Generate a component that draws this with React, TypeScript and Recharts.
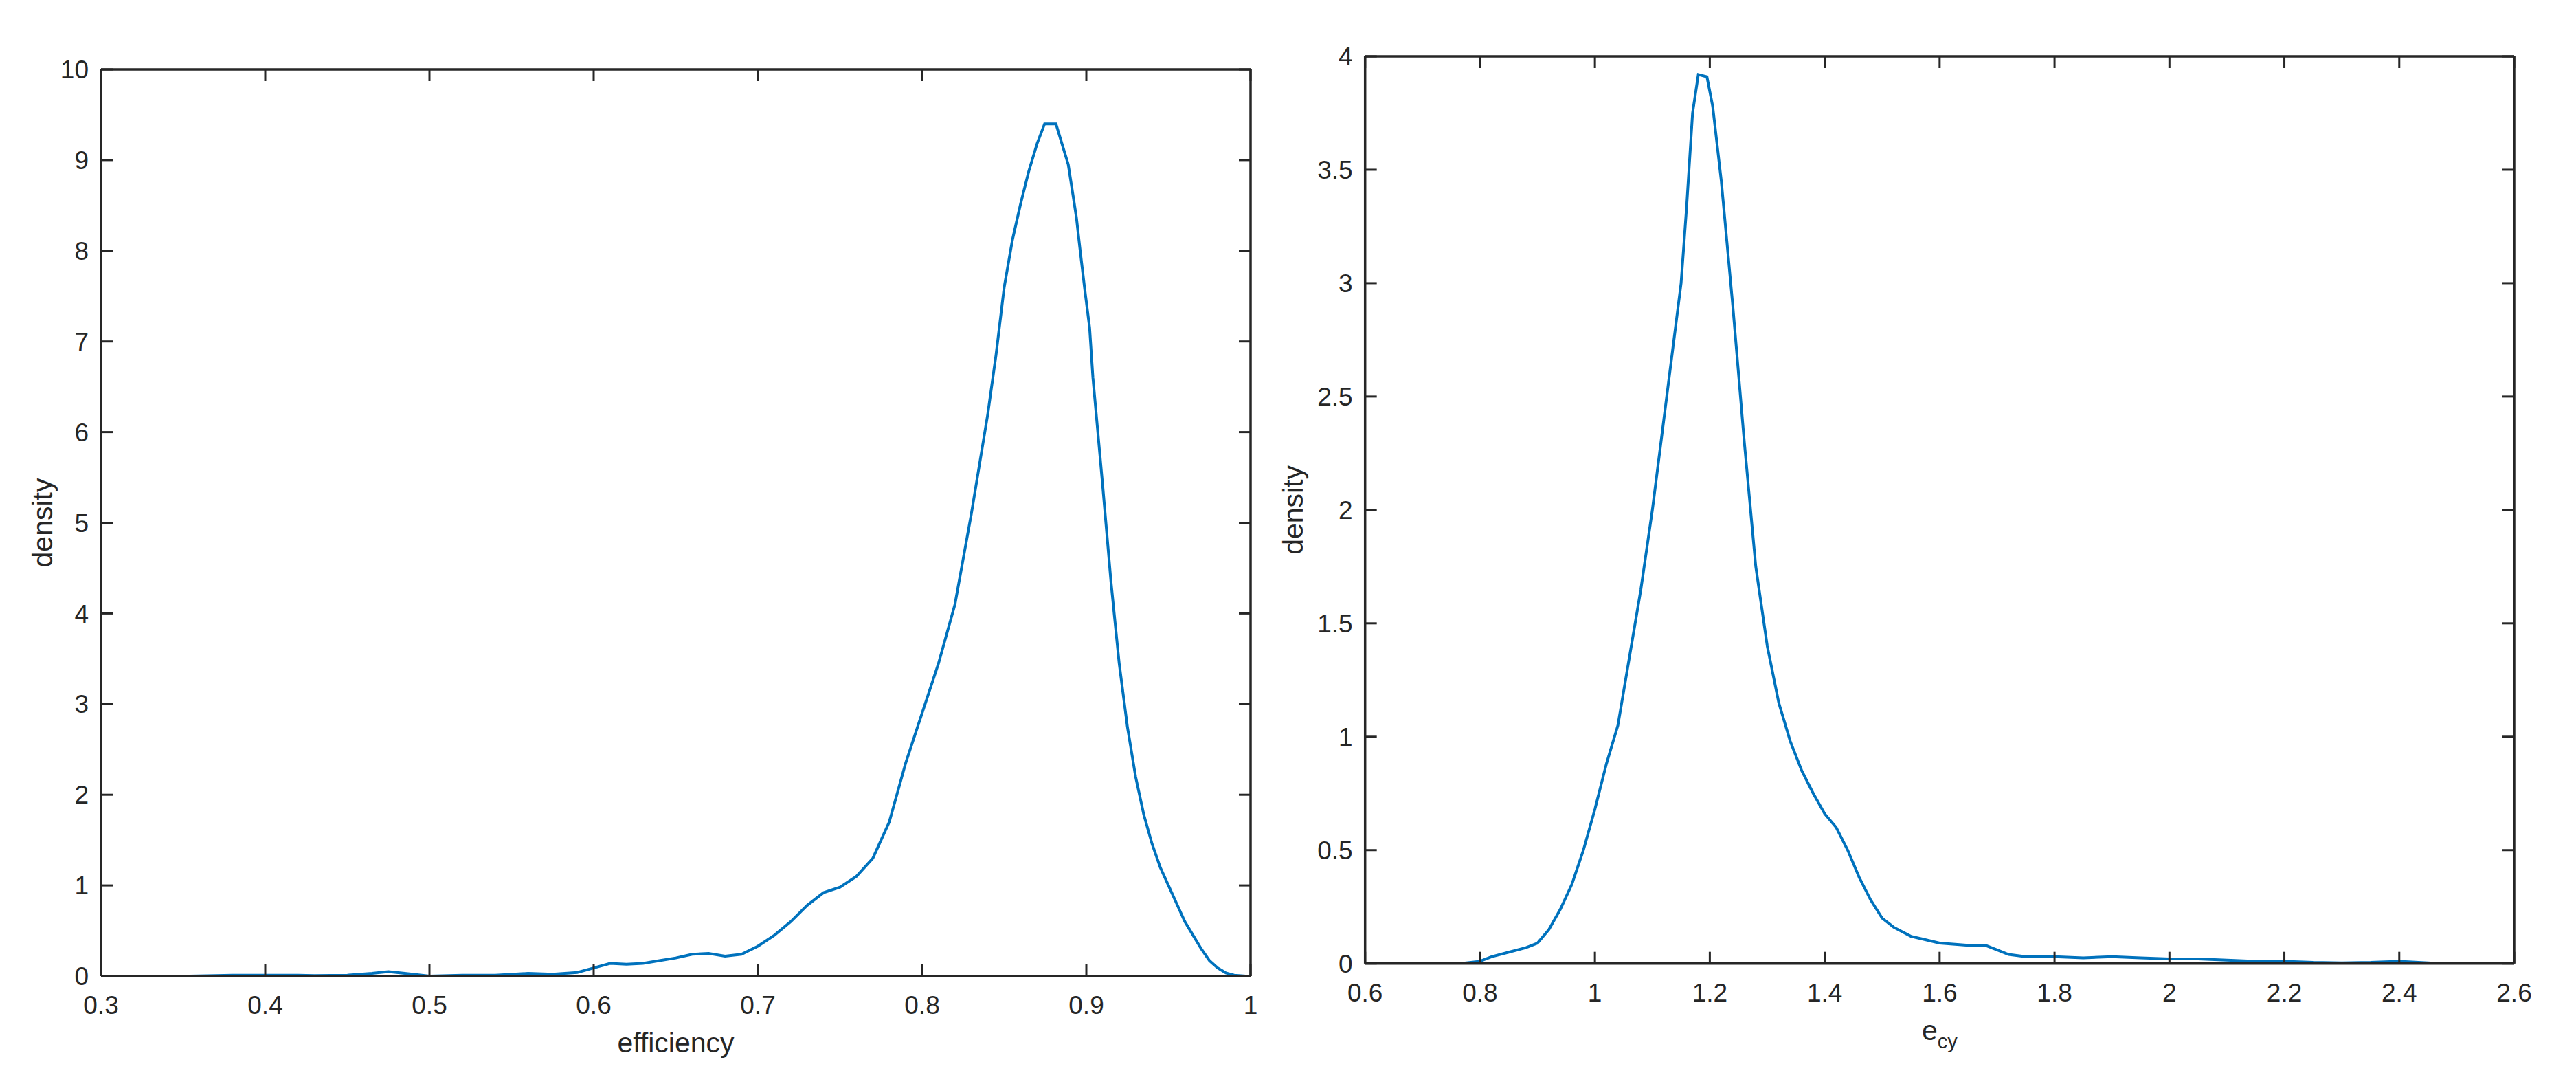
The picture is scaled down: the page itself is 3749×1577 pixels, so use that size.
import { LineChart, Line, XAxis, YAxis } from "recharts";

// left panel: efficiency density
const effX = [
  0.354, 0.37, 0.38, 0.4, 0.42, 0.43, 0.45, 0.465, 0.475, 0.485, 0.5, 0.52, 0.54, 0.56, 0.575, 0.59,
  0.6, 0.61, 0.62, 0.63, 0.64, 0.65, 0.66, 0.67, 0.68, 0.69, 0.7, 0.71, 0.72, 0.73, 0.74, 0.75,
  0.76, 0.77, 0.78, 0.79, 0.8, 0.81, 0.82, 0.825, 0.83, 0.835, 0.84, 0.845, 0.85, 0.855, 0.86,
  0.865, 0.87, 0.8746, 0.8815, 0.887, 0.889, 0.892, 0.894,
  0.896, 0.899, 0.902, 0.904, 0.91, 0.915, 0.92, 0.925, 0.93, 0.935, 0.94, 0.945, 0.95, 0.955,
  0.96, 0.965, 0.97, 0.975, 0.98, 0.985, 0.99, 0.997,
];
const effDensity = [
  0, 0.005, 0.01, 0.01, 0.01, 0.005, 0.01, 0.03, 0.05, 0.03, 0, 0.01, 0.01, 0.03, 0.02, 0.04,
  0.09, 0.14, 0.13, 0.14, 0.17, 0.2, 0.24, 0.25, 0.22, 0.24, 0.33, 0.45, 0.6, 0.78, 0.92, 0.98,
  1.1, 1.3, 1.7, 2.35, 2.9, 3.45, 4.1, 4.6, 5.1, 5.65, 6.2, 6.85, 7.6, 8.12, 8.52,
  8.88, 9.18, 9.4, 9.4, 9.07, 8.95, 8.6, 8.36,
  8.04, 7.58, 7.15, 6.6, 5.4, 4.35, 3.45, 2.75, 2.2, 1.78, 1.46, 1.2, 1.0, 0.8,
  0.6, 0.45, 0.3, 0.17, 0.09, 0.035, 0.01, 0,
];
const effXTicks = [0.3, 0.4, 0.5, 0.6, 0.7, 0.8, 0.9, 1];
const effYTicks = [0, 1, 2, 3, 4, 5, 6, 7, 8, 9, 10];

// right panel: e_cy density
const ecyX = [
  0.766, 0.8, 0.82, 0.85, 0.88, 0.9, 0.92, 0.94, 0.96, 0.98, 1.0, 1.02, 1.04, 1.06, 1.08, 1.1,
  1.12, 1.14, 1.15, 1.16, 1.17, 1.18, 1.195, 1.205, 1.22, 1.24, 1.26, 1.28, 1.3, 1.32, 1.34,
  1.36, 1.38, 1.4, 1.42, 1.44, 1.46, 1.48, 1.5, 1.52, 1.55, 1.6, 1.65, 1.68, 1.7, 1.72, 1.75,
  1.8, 1.85, 1.9, 1.95, 2.0, 2.05, 2.1, 2.15, 2.2, 2.25, 2.3, 2.35, 2.4, 2.45, 2.47,
];
const ecyDensity = [
  0, 0.01, 0.03, 0.05, 0.07, 0.09, 0.15, 0.24, 0.35, 0.5, 0.68, 0.88, 1.05, 1.35, 1.65, 2.0,
  2.4, 2.8, 3.0, 3.35, 3.75, 3.92, 3.91, 3.78, 3.45, 2.9, 2.3, 1.75, 1.4, 1.15, 0.98,
  0.85, 0.75, 0.66, 0.6, 0.5, 0.38, 0.28, 0.2, 0.16, 0.12, 0.09, 0.08, 0.08, 0.06, 0.04, 0.03,
  0.03, 0.025, 0.03, 0.025, 0.02, 0.02, 0.015, 0.01, 0.01, 0.005, 0.003, 0.005, 0.01, 0.003, 0,
];
const ecyXTicks = [0.6, 0.8, 1, 1.2, 1.4, 1.6, 1.8, 2, 2.2, 2.4, 2.6];
const ecyYTicks = [0, 0.5, 1, 1.5, 2, 2.5, 3, 3.5, 4];

const INK = "#262626";
const BLUE = "#0072BD";
const FONT = "'Liberation Sans', Arial, Helvetica, sans-serif";
const TICK = -17; // inward ticks, matlab style

const toRows = (xs: number[], ys: number[]) => xs.map((x, i) => ({ x, y: ys[i] }));

const tickStyle = { fill: INK, fontSize: 37, fontFamily: FONT };

function yTitle(text: string, offset: number) {
  return (props: any) => {
    const vb = props.viewBox ?? { x: 0, y: 0, width: 0, height: 0 };
    const x = vb.x + vb.width - offset;
    const y = vb.y + vb.height / 2;
    return (
      <text
        x={x}
        y={y}
        transform={`rotate(-90, ${x}, ${y})`}
        textAnchor="middle"
        fill={INK}
        fontSize={41}
        fontFamily={FONT}
      >
        {text}
      </text>
    );
  };
}

function xTitle(main: string, sub?: string) {
  return (props: any) => {
    const vb = props.viewBox ?? { x: 0, y: 0, width: 0, height: 0 };
    return (
      <text
        x={vb.x + vb.width / 2}
        y={vb.y + 111}
        textAnchor="middle"
        fill={INK}
        fontSize={41}
        fontFamily={FONT}
      >
        <tspan>{main}</tspan>
        {sub && (
          <tspan fontSize={29} dy={12}>
            {sub}
          </tspan>
        )}
      </text>
    );
  };
}

interface PanelProps {
  rows: { x: number; y: number }[];
  xDomain: [number, number];
  yDomain: [number, number];
  xTicks: number[];
  yTicks: number[];
  width: number;
  margin: { top: number; right: number; bottom: number; left: number };
  xLabel: (p: any) => any;
  yLabel: (p: any) => any;
}

function Panel({ rows, xDomain, yDomain, xTicks, yTicks, width, margin, xLabel, yLabel }: PanelProps) {
  const line = { stroke: INK, strokeWidth: 3.5 };
  const tl = { stroke: INK, strokeWidth: 3 };
  return (
    <LineChart width={width} height={1577} data={rows} margin={margin}>
      <XAxis
        dataKey="x"
        type="number"
        domain={xDomain}
        ticks={xTicks}
        interval={0}
        allowDataOverflow
        height={60}
        axisLine={line}
        tickLine={tl}
        tickSize={TICK}
        tickMargin={46}
        tick={tickStyle}
        label={{ content: xLabel }}
      />
      <XAxis
        xAxisId="top"
        dataKey="x"
        orientation="top"
        type="number"
        domain={xDomain}
        ticks={xTicks}
        interval={0}
        allowDataOverflow
        height={1}
        axisLine={line}
        tickLine={tl}
        tickSize={TICK}
        tickFormatter={() => ""}
      />
      <YAxis
        type="number"
        domain={yDomain}
        ticks={yTicks}
        interval={0}
        allowDataOverflow
        width={80}
        axisLine={line}
        tickLine={tl}
        tickSize={TICK}
        tickMargin={35}
        tick={tickStyle}
        label={{ content: yLabel }}
      />
      <YAxis
        yAxisId="right"
        orientation="right"
        type="number"
        domain={yDomain}
        ticks={yTicks}
        interval={0}
        allowDataOverflow
        width={1}
        axisLine={line}
        tickLine={tl}
        tickSize={TICK}
        tickFormatter={() => ""}
      />
      {/* invisible twin so the mirrored box axes get drawn */}
      <Line
        xAxisId="top"
        yAxisId="right"
        type="linear"
        dataKey="y"
        stroke="none"
        dot={false}
        activeDot={false}
        legendType="none"
        isAnimationActive={false}
      />
      <Line
        type="linear"
        dataKey="y"
        stroke={BLUE}
        strokeWidth={4}
        dot={false}
        activeDot={false}
        isAnimationActive={false}
      />
    </LineChart>
  );
}

export default function App() {
  return (
    <div style={{ position: "absolute", left: 0, top: 0, width: 3749, height: 1577, background: "#fff" }}>
      <div style={{ position: "absolute", left: 0, top: 0 }}>
        <Panel
          rows={toRows(effX, effDensity)}
          xDomain={[0.3, 1]}
          yDomain={[0, 10]}
          xTicks={effXTicks}
          yTicks={effYTicks}
          width={1850}
          margin={{ top: 100, right: 29, bottom: 97, left: 67 }}
          xLabel={xTitle("efficiency")}
          yLabel={yTitle("density", 71)}
        />
      </div>
      <div style={{ position: "absolute", left: 1850, top: 0 }}>
        <Panel
          rows={toRows(ecyX, ecyDensity)}
          xDomain={[0.6, 2.6]}
          yDomain={[0, 4]}
          xTicks={ecyXTicks}
          yTicks={ecyYTicks}
          width={1899}
          margin={{ top: 81, right: 89, bottom: 115.3, left: 56.7 }}
          xLabel={xTitle("e", "cy")}
          yLabel={yTitle("density", 90.7)}
        />
      </div>
    </div>
  );
}
